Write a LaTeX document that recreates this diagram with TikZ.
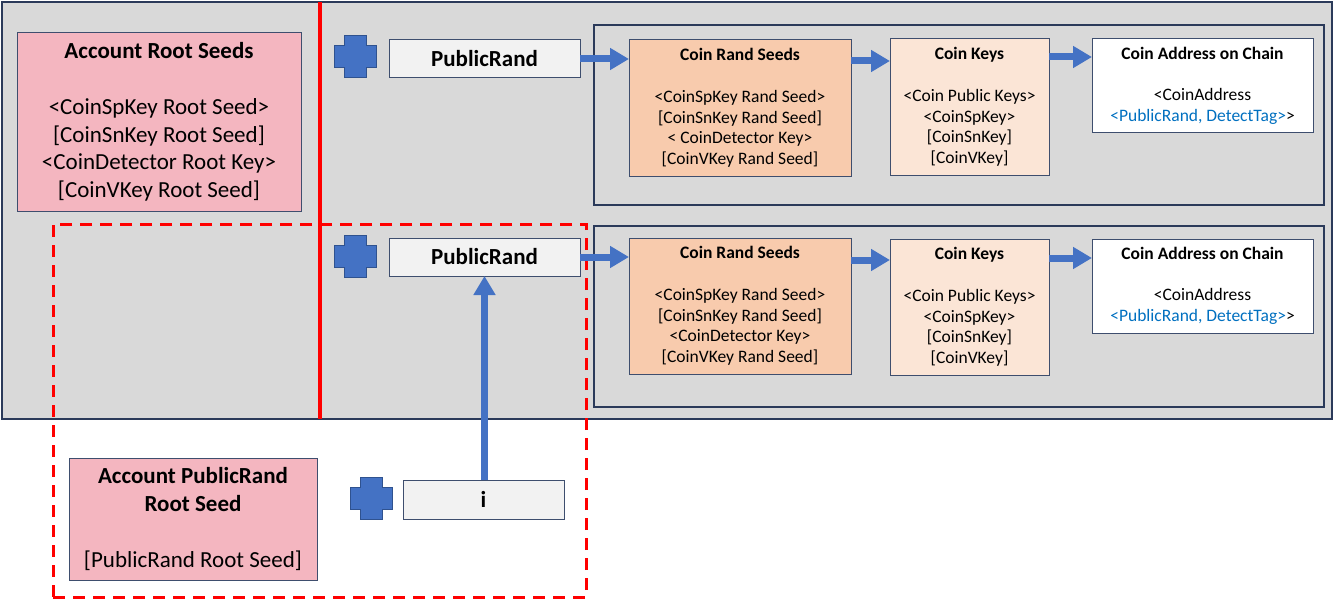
\documentclass[tikz,border=0pt]{standalone}
\usepackage{fontspec}
\setmainfont{Carlito}
\usepackage{xcolor}
\usetikzlibrary{arrows.meta,positioning}
\definecolor{panel}{HTML}{D9D9D9}
\definecolor{frameline}{HTML}{2B3A5A}
\definecolor{boxline}{HTML}{3E4E6E}
\definecolor{rootpink}{HTML}{F4B6C0}
\definecolor{seedorange}{HTML}{F8CBAD}
\definecolor{keypeach}{HTML}{FBE5D6}
\definecolor{randgray}{HTML}{F2F2F2}
\definecolor{flowblue}{HTML}{4472C4}
\definecolor{plusline}{HTML}{2F528F}
\definecolor{tagblue}{HTML}{0070C0}
\definecolor{cutred}{HTML}{FF0000}
\tikzset{
  frame/.style={draw=frameline, line width=1.5pt, anchor=north west, inner sep=0pt, outer sep=0pt},
  box/.style={draw=boxline, line width=1pt, anchor=north west, align=center, inner sep=0pt, outer sep=0pt},
  bigtxt/.style={font=\fontsize{23}{27.7}\selectfont},
  smalltxt/.style={font=\fontsize{17.5}{20.7}\selectfont},
  flow/.style={draw=flowblue, line width=7pt, -{Triangle[width=21pt,length=19pt]}},
  cutline/.style={draw=cutred, line width=4pt},
  zone/.style={draw=cutred, line width=3pt, dash pattern=on 12pt off 8pt, anchor=north west, inner sep=0pt, outer sep=0pt},
  crossmark/.pic={
    \draw[draw=plusline, fill=flowblue, line width=1pt]
      (-11,-21) -- (11,-21) -- (11,-11) -- (21,-11) -- (21,11) -- (11,11) -- (11,21)
      -- (-11,21) -- (-11,11) -- (-21,11) -- (-21,-11) -- (-11,-11) -- cycle;
  }
}

\begin{document}
\begin{tikzpicture}[x=1pt,y=-1pt]
  \useasboundingbox (0,0) rectangle (1335,599);

  \node[frame, fill=panel, minimum width=1330pt, minimum height=417pt] (panel) at (2,2) {};
  \coordinate (cuttop) at (320,2);
  \coordinate (cutbot) at (320,419);
  \draw[cutline] (cuttop) -- (cutbot);
  \node[zone, minimum width=533pt, minimum height=373pt] (pubzone) at (53,224) {};

  \node[box, fill=rootpink, bigtxt, minimum width=284pt, minimum height=178pt] (roots) at (17,33)
    {\textbf{Account Root Seeds}\\[27.7pt]
     <CoinSpKey Root Seed>\\ {[CoinSnKey Root Seed]}\\
     <CoinDetector Root Key>\\ {[CoinVKey Root Seed]}};

  \node[frame, minimum width=730pt, minimum height=180pt] (row1) at (594,25) {};
  \node[frame, minimum width=730pt, minimum height=181pt] (row2) at (594,226) {};

  \pic (plus1) at (355,57) {crossmark};
  \pic (plus2) at (355,256) {crossmark};
  \pic (plus3) at (371,498) {crossmark};

  \node[box, fill=randgray, bigtxt, minimum width=191pt, minimum height=38pt] (pr1) at (389,40) {\textbf{PublicRand}};
  \node[box, fill=randgray, bigtxt, minimum width=191pt, minimum height=38pt] (pr2) at (389,238) {\textbf{PublicRand}};
  \node[box, fill=randgray, bigtxt, minimum width=161pt, minimum height=39pt] (ibox) at (403,480) {\textbf{i}};

  \node[box, fill=seedorange, smalltxt, minimum width=222pt, minimum height=136pt] (crs1) at (629,40)
    {\textbf{Coin Rand Seeds}\\[20.7pt]
     <CoinSpKey Rand Seed>\\ {[CoinSnKey Rand Seed]}\\
     < CoinDetector Key>\\ {[CoinVKey Rand Seed]}};
  \node[box, fill=keypeach, smalltxt, minimum width=159pt, minimum height=136pt] (ck1) at (890,39)
    {\textbf{Coin Keys}\\[20.7pt]
     <Coin Public Keys>\\ <CoinSpKey>\\ {[CoinSnKey]}\\ {[CoinVKey]}};
  \node[box, fill=white, smalltxt, minimum width=221pt, minimum height=94pt] (ca1) at (1092,39)
    {\textbf{Coin Address on Chain}\\[20.7pt]
     <CoinAddress\\ \textcolor{tagblue}{<PublicRand, DetectTag>}>};

  \node[box, fill=seedorange, smalltxt, minimum width=222pt, minimum height=136pt] (crs2) at (629,238)
    {\textbf{Coin Rand Seeds}\\[20.7pt]
     <CoinSpKey Rand Seed>\\ {[CoinSnKey Rand Seed]}\\
     <CoinDetector Key>\\ {[CoinVKey Rand Seed]}};
  \node[box, fill=keypeach, smalltxt, minimum width=159pt, minimum height=136pt] (ck2) at (890,239)
    {\textbf{Coin Keys}\\[20.7pt]
     <Coin Public Keys>\\ <CoinSpKey>\\ {[CoinSnKey]}\\ {[CoinVKey]}};
  \node[box, fill=white, smalltxt, minimum width=221pt, minimum height=94pt] (ca2) at (1092,239)
    {\textbf{Coin Address on Chain}\\[20.7pt]
     <CoinAddress\\ \textcolor{tagblue}{<PublicRand, DetectTag>}>};

  \node[box, fill=rootpink, bigtxt, minimum width=248pt, minimum height=122pt] (pubroot) at (69,458)
    {\textbf{Account PublicRand}\\ \textbf{Root Seed}\\[27.7pt]
     {[PublicRand Root Seed]}};

  \draw[flow] (pr1.east) -- (pr1.east -| crs1.west);
  \draw[flow] ([yshift=-21pt]crs1.north east) -- ([yshift=-21pt]crs1.north east -| ck1.west);
  \draw[flow] ([yshift=-18pt]ck1.north east) -- ([yshift=-18pt]ck1.north east -| ca1.west);
  \draw[flow] (pr2.east) -- (pr2.east -| crs2.west);
  \draw[flow] ([yshift=-22pt]crs2.north east) -- ([yshift=-22pt]crs2.north east -| ck2.west);
  \draw[flow] ([yshift=-19pt]ck2.north east) -- ([yshift=-19pt]ck2.north east -| ca2.west);
  \draw[flow] ([xshift=1pt]ibox.north) -- ([xshift=1pt]ibox.north |- pr2.south);
\end{tikzpicture}
\end{document}
